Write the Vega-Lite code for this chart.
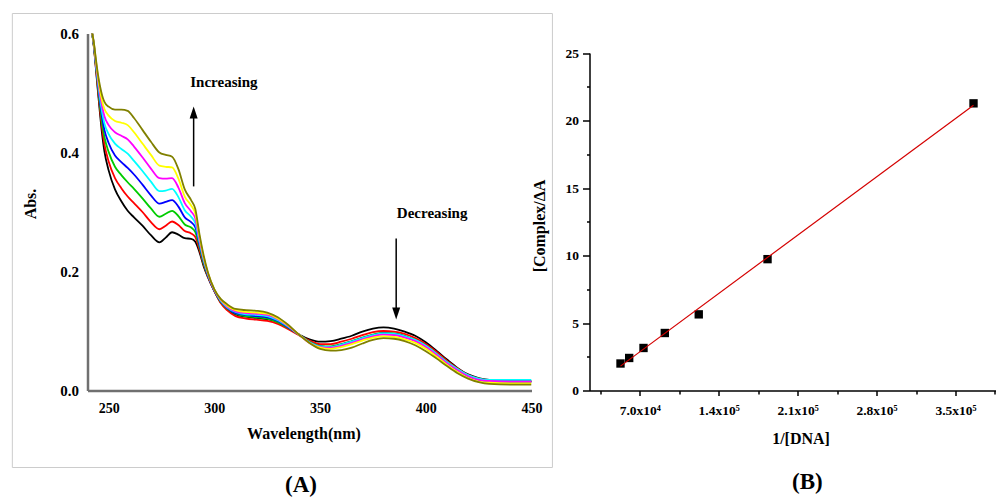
{
  "$schema": "https://vega.github.io/schema/vega-lite/v6.json",
  "padding": {"left": 11.5, "top": 12.5, "right": 0, "bottom": 0},
  "background": "white",
  "bounds": "flush",
  "spacing": 58,
  "config": {
    "view": {"stroke": null},
    "font": "Liberation Serif",
    "axis": {
      "grid": false,
      "labelFont": "Liberation Serif",
      "labelFontWeight": "bold",
      "titleFont": "Liberation Serif",
      "titleFontWeight": "bold",
      "labelColor": "black",
      "titleColor": "black",
      "labelFlush": false,
      "labelOverlap": false,
      "labelBound": false
    }
  },
  "datasets": {
    "spectra": [
      {"wl":242,"black":0.605,"red":0.605,"green":0.605,"blue":0.605,"cyan":0.605,"magenta":0.605,"yellow":0.605,"olive":0.605},
      {"wl":243,"black":0.578,"red":0.579,"green":0.580,"blue":0.581,"cyan":0.582,"magenta":0.583,"yellow":0.584,"olive":0.585},
      {"wl":244,"black":0.540,"red":0.542,"green":0.545,"blue":0.547,"cyan":0.549,"magenta":0.551,"yellow":0.554,"olive":0.556},
      {"wl":245,"black":0.500,"red":0.504,"green":0.509,"blue":0.513,"cyan":0.517,"magenta":0.521,"yellow":0.526,"olive":0.530},
      {"wl":246,"black":0.462,"red":0.469,"green":0.476,"blue":0.483,"cyan":0.489,"magenta":0.496,"yellow":0.503,"olive":0.510},
      {"wl":247,"black":0.428,"red":0.438,"green":0.447,"blue":0.457,"cyan":0.466,"magenta":0.476,"yellow":0.485,"olive":0.495},
      {"wl":248,"black":0.402,"red":0.414,"green":0.426,"blue":0.438,"cyan":0.449,"magenta":0.461,"yellow":0.473,"olive":0.485},
      {"wl":250,"black":0.370,"red":0.385,"green":0.401,"blue":0.416,"cyan":0.431,"magenta":0.446,"yellow":0.462,"olive":0.477},
      {"wl":253,"black":0.338,"red":0.357,"green":0.376,"blue":0.395,"cyan":0.415,"magenta":0.434,"yellow":0.453,"olive":0.472},
      {"wl":256,"black":0.318,"red":0.340,"green":0.362,"blue":0.384,"cyan":0.406,"magenta":0.428,"yellow":0.450,"olive":0.472},
      {"wl":259,"black":0.302,"red":0.326,"green":0.350,"blue":0.374,"cyan":0.398,"magenta":0.422,"yellow":0.446,"olive":0.470},
      {"wl":262,"black":0.291,"red":0.315,"green":0.339,"blue":0.363,"cyan":0.386,"magenta":0.410,"yellow":0.434,"olive":0.458},
      {"wl":266,"black":0.277,"red":0.300,"green":0.323,"blue":0.346,"cyan":0.369,"magenta":0.392,"yellow":0.415,"olive":0.438},
      {"wl":270,"black":0.261,"red":0.283,"green":0.306,"blue":0.328,"cyan":0.351,"magenta":0.373,"yellow":0.396,"olive":0.418},
      {"wl":274,"black":0.249,"red":0.271,"green":0.292,"blue":0.314,"cyan":0.335,"magenta":0.357,"yellow":0.378,"olive":0.400},
      {"wl":277,"black":0.257,"red":0.277,"green":0.297,"blue":0.317,"cyan":0.336,"magenta":0.356,"yellow":0.376,"olive":0.396},
      {"wl":280,"black":0.266,"red":0.284,"green":0.302,"blue":0.320,"cyan":0.339,"magenta":0.357,"yellow":0.375,"olive":0.393},
      {"wl":283,"black":0.262,"red":0.278,"green":0.293,"blue":0.309,"cyan":0.325,"magenta":0.341,"yellow":0.356,"olive":0.372},
      {"wl":286,"black":0.256,"red":0.268,"green":0.279,"blue":0.291,"cyan":0.303,"magenta":0.315,"yellow":0.326,"olive":0.338},
      {"wl":289,"black":0.255,"red":0.264,"green":0.274,"blue":0.283,"cyan":0.292,"magenta":0.301,"yellow":0.311,"olive":0.320},
      {"wl":291,"black":0.250,"red":0.258,"green":0.266,"blue":0.274,"cyan":0.281,"magenta":0.289,"yellow":0.297,"olive":0.305},
      {"wl":293,"black":0.232,"red":0.236,"green":0.241,"blue":0.245,"cyan":0.249,"magenta":0.253,"yellow":0.258,"olive":0.262},
      {"wl":295,"black":0.208,"red":0.211,"green":0.213,"blue":0.216,"cyan":0.218,"magenta":0.221,"yellow":0.223,"olive":0.226},
      {"wl":297,"black":0.190,"red":0.191,"green":0.192,"blue":0.193,"cyan":0.195,"magenta":0.196,"yellow":0.197,"olive":0.198},
      {"wl":300,"black":0.167,"red":0.167,"green":0.168,"blue":0.168,"cyan":0.169,"magenta":0.169,"yellow":0.170,"olive":0.170},
      {"wl":303,"black":0.148,"red":0.147,"green":0.149,"blue":0.150,"cyan":0.151,"magenta":0.152,"yellow":0.153,"olive":0.154},
      {"wl":306,"black":0.137,"red":0.135,"green":0.138,"blue":0.139,"cyan":0.140,"magenta":0.141,"yellow":0.143,"olive":0.145},
      {"wl":310,"black":0.128,"red":0.125,"green":0.129,"blue":0.130,"cyan":0.132,"magenta":0.133,"yellow":0.135,"olive":0.137},
      {"wl":315,"black":0.124,"red":0.121,"green":0.125,"blue":0.127,"cyan":0.128,"magenta":0.130,"yellow":0.132,"olive":0.135},
      {"wl":320,"black":0.122,"red":0.119,"green":0.123,"blue":0.125,"cyan":0.127,"magenta":0.129,"yellow":0.131,"olive":0.134},
      {"wl":325,"black":0.120,"red":0.117,"green":0.121,"blue":0.123,"cyan":0.125,"magenta":0.127,"yellow":0.129,"olive":0.131},
      {"wl":330,"black":0.115,"red":0.112,"green":0.115,"blue":0.117,"cyan":0.118,"magenta":0.120,"yellow":0.121,"olive":0.123},
      {"wl":335,"black":0.105,"red":0.103,"green":0.105,"blue":0.106,"cyan":0.107,"magenta":0.108,"yellow":0.109,"olive":0.110},
      {"wl":340,"black":0.094,"red":0.093,"green":0.094,"blue":0.094,"cyan":0.094,"magenta":0.094,"yellow":0.094,"olive":0.094},
      {"wl":345,"black":0.086,"red":0.084,"green":0.082,"blue":0.081,"cyan":0.081,"magenta":0.080,"yellow":0.080,"olive":0.080},
      {"wl":350,"black":0.082,"red":0.078,"green":0.075,"blue":0.074,"cyan":0.074,"magenta":0.073,"yellow":0.072,"olive":0.070},
      {"wl":355,"black":0.083,"red":0.078,"green":0.074,"blue":0.073,"cyan":0.073,"magenta":0.072,"yellow":0.070,"olive":0.067},
      {"wl":360,"black":0.087,"red":0.082,"green":0.078,"blue":0.077,"cyan":0.077,"magenta":0.075,"yellow":0.073,"olive":0.068},
      {"wl":365,"black":0.092,"red":0.087,"green":0.083,"blue":0.082,"cyan":0.082,"magenta":0.080,"yellow":0.078,"olive":0.072},
      {"wl":370,"black":0.099,"red":0.093,"green":0.089,"blue":0.088,"cyan":0.088,"magenta":0.086,"yellow":0.084,"olive":0.079},
      {"wl":375,"black":0.104,"red":0.098,"green":0.094,"blue":0.093,"cyan":0.093,"magenta":0.091,"yellow":0.089,"olive":0.085},
      {"wl":380,"black":0.106,"red":0.100,"green":0.097,"blue":0.096,"cyan":0.096,"magenta":0.094,"yellow":0.091,"olive":0.088},
      {"wl":385,"black":0.104,"red":0.099,"green":0.096,"blue":0.095,"cyan":0.095,"magenta":0.093,"yellow":0.090,"olive":0.087},
      {"wl":390,"black":0.099,"red":0.095,"green":0.092,"blue":0.091,"cyan":0.091,"magenta":0.089,"yellow":0.086,"olive":0.083},
      {"wl":395,"black":0.092,"red":0.088,"green":0.085,"blue":0.084,"cyan":0.085,"magenta":0.083,"yellow":0.080,"olive":0.076},
      {"wl":400,"black":0.081,"red":0.078,"green":0.075,"blue":0.074,"cyan":0.075,"magenta":0.073,"yellow":0.070,"olive":0.066},
      {"wl":405,"black":0.067,"red":0.065,"green":0.062,"blue":0.061,"cyan":0.062,"magenta":0.060,"yellow":0.057,"olive":0.054},
      {"wl":410,"black":0.052,"red":0.050,"green":0.048,"blue":0.047,"cyan":0.048,"magenta":0.046,"yellow":0.043,"olive":0.041},
      {"wl":415,"black":0.038,"red":0.037,"green":0.035,"blue":0.034,"cyan":0.036,"magenta":0.034,"yellow":0.031,"olive":0.029},
      {"wl":420,"black":0.027,"red":0.026,"green":0.025,"blue":0.024,"cyan":0.026,"magenta":0.024,"yellow":0.021,"olive":0.020},
      {"wl":425,"black":0.021,"red":0.020,"green":0.019,"blue":0.018,"cyan":0.020,"magenta":0.018,"yellow":0.015,"olive":0.014},
      {"wl":430,"black":0.018,"red":0.017,"green":0.016,"blue":0.016,"cyan":0.018,"magenta":0.016,"yellow":0.013,"olive":0.011},
      {"wl":440,"black":0.016,"red":0.015,"green":0.015,"blue":0.015,"cyan":0.018,"magenta":0.015,"yellow":0.012,"olive":0.010},
      {"wl":450,"black":0.016,"red":0.015,"green":0.015,"blue":0.015,"cyan":0.018,"magenta":0.015,"yellow":0.012,"olive":0.010}
    ],
    "dna": [
      {"inv": 52900, "ratio": 2.0},
      {"inv": 60600, "ratio": 2.41},
      {"inv": 73300, "ratio": 3.15},
      {"inv": 92200, "ratio": 4.26},
      {"inv": 122300, "ratio": 5.64},
      {"inv": 183300, "ratio": 9.73},
      {"inv": 366000, "ratio": 21.27}
    ]
  },
  "hconcat": [
    {
      "width": 444,
      "height": 357,
      "resolve": {"axis": {"x": "independent", "y": "independent"}},
      "layer": [
        {
          "data": {"name": "spectra"},
          "transform": [{"fold": ["black", "red", "green", "blue", "cyan", "magenta", "yellow", "olive"], "as": ["curve", "abs"]}],
          "mark": {"type": "line", "interpolate": "monotone", "strokeWidth": 1.8, "clip": true},
          "encoding": {
            "x": {
              "field": "wl", "type": "quantitative",
              "scale": {"domain": [240, 450], "nice": false, "zero": false},
              "axis": {
                "orient": "bottom",
                "values": [250, 300, 350, 400, 450],
                "title": "Wavelength(nm)",
                "ticks": true, "tickSize": 0.01, "tickOpacity": 0,
                "labelPadding": 11, "labelFontSize": 14,
                "titleFontSize": 16, "titlePadding": 10, "titleX": 216,
                "domainColor": "#707070", "domainWidth": 2.5
              }
            },
            "y": {
              "field": "abs", "type": "quantitative",
              "scale": {"domain": [0, 0.6], "nice": false},
              "axis": {
                "orient": "left",
                "values": [0, 0.2, 0.4, 0.6],
                "format": ".1f",
                "title": "Abs.",
                "ticks": true, "tickSize": 0.01, "tickOpacity": 0,
                "labelPadding": 9, "labelFontSize": 15,
                "titleFontSize": 16, "titlePadding": 21, "titleY": 170,
                "domainColor": "#707070", "domainWidth": 2.5
              }
            },
            "color": {
              "field": "curve", "type": "nominal",
              "scale": {
                "domain": ["black", "red", "green", "blue", "cyan", "magenta", "yellow", "olive"],
                "range": ["#000000", "#ff0000", "#00cc00", "#0000ff", "#00ffff", "#ff00ff", "#ffff00", "#808000"]
              },
              "legend": null
            }
          }
        },
        {
          "data": {"values": [{}]},
          "mark": {"type": "rect", "fill": null, "stroke": "#cccccc", "strokeWidth": 1, "clip": false},
          "encoding": {
            "x": {"datum": 204.45, "type": "quantitative", "axis": null},
            "x2": {"datum": 459.9},
            "y": {"datum": 0.6336, "type": "quantitative", "axis": null},
            "y2": {"datum": -0.1294}
          }
        },
        {
          "data": {"values": [{}]},
          "mark": {"type": "rule", "color": "black", "strokeWidth": 1.5},
          "encoding": {
            "x": {"datum": 290.2, "type": "quantitative", "axis": null},
            "y": {"datum": 0.343, "type": "quantitative", "axis": null},
            "y2": {"datum": 0.47}
          }
        },
        {
          "data": {"values": [{}]},
          "mark": {"type": "point", "shape": "M0,-1L0.667,1L-0.667,1Z", "filled": true, "color": "black", "opacity": 1, "size": 144},
          "encoding": {
            "x": {"datum": 290.2, "type": "quantitative", "axis": null},
            "y": {"datum": 0.4672, "type": "quantitative", "axis": null}
          }
        },
        {
          "data": {"values": [{}]},
          "mark": {"type": "rule", "color": "black", "strokeWidth": 1.5},
          "encoding": {
            "x": {"datum": 386, "type": "quantitative", "axis": null},
            "y": {"datum": 0.2555, "type": "quantitative", "axis": null},
            "y2": {"datum": 0.125}
          }
        },
        {
          "data": {"values": [{}]},
          "mark": {"type": "point", "shape": "M0,1L0.667,-1L-0.667,-1Z", "filled": true, "color": "black", "opacity": 1, "size": 144},
          "encoding": {
            "x": {"datum": 386, "type": "quantitative", "axis": null},
            "y": {"datum": 0.1294, "type": "quantitative", "axis": null}
          }
        },
        {
          "data": {"values": [{}]},
          "mark": {"type": "text", "text": "Increasing", "font": "Liberation Serif", "fontWeight": "bold", "fontSize": 15, "align": "center", "baseline": "middle", "color": "black"},
          "encoding": {
            "x": {"datum": 304.5, "type": "quantitative", "axis": null},
            "y": {"datum": 0.518, "type": "quantitative", "axis": null}
          }
        },
        {
          "data": {"values": [{}]},
          "mark": {"type": "text", "text": "Decreasing", "font": "Liberation Serif", "fontWeight": "bold", "fontSize": 15, "align": "center", "baseline": "middle", "color": "black"},
          "encoding": {
            "x": {"datum": 403, "type": "quantitative", "axis": null},
            "y": {"datum": 0.2975, "type": "quantitative", "axis": null}
          }
        },
        {
          "data": {"values": [{}]},
          "mark": {"type": "text", "text": "(A)", "font": "Liberation Serif", "fontWeight": "bold", "fontSize": 23, "align": "center", "baseline": "middle", "color": "black", "clip": false},
          "encoding": {
            "x": {"datum": 340.95, "type": "quantitative", "axis": null},
            "y": {"datum": -0.158, "type": "quantitative", "axis": null}
          }
        }
      ]
    },
    {
      "width": 406,
      "height": 357,
      "layer": [
        {
          "data": {"name": "dna"},
          "mark": {"type": "point", "shape": "square", "filled": true, "color": "black", "opacity": 1, "size": 70},
          "encoding": {
            "x": {
              "field": "inv", "type": "quantitative",
              "scale": {"domain": [25400, 385500], "nice": false, "zero": false},
              "axis": {
                "orient": "bottom",
                "values": [70000, 140000, 210000, 280000, 350000],
                "labelExpr": "datum.value < 100000 ? format(datum.value / 10000, '.1f') + 'x10⁴' : format(datum.value / 100000, '.1f') + 'x10⁵'",
                "title": "1/[DNA]",
                "tickSize": 5, "tickColor": "black", "tickWidth": 1.5,
                "labelPadding": 8, "labelFontSize": 13.5,
                "titleFontSize": 16, "titlePadding": 13, "titleX": 211,
                "domainColor": "black", "domainWidth": 1.5
              }
            },
            "y": {
              "field": "ratio", "type": "quantitative",
              "scale": {"domain": [0, 25], "range": [357, 19.5], "nice": false},
              "axis": {
                "orient": "left",
                "values": [0, 5, 10, 15, 20, 25],
                "title": "[Complex/ΔA",
                "tickSize": 7, "tickColor": "black", "tickWidth": 1.5,
                "labelPadding": 4, "labelFontSize": 13.5,
                "titleFontSize": 16, "titlePadding": 18, "titleY": 192,
                "domainColor": "black", "domainWidth": 1.5
              }
            }
          }
        },
        {
          "data": {"name": "dna"},
          "transform": [{"regression": "ratio", "on": "inv"}],
          "mark": {"type": "line", "color": "#d40000", "strokeWidth": 1.2},
          "encoding": {
            "x": {
              "field": "inv", "type": "quantitative",
              "axis": {
                "orient": "bottom",
                "values": [35000, 105000, 175000, 245000, 315000, 385000],
                "labels": false, "title": null, "domain": false,
                "tickSize": 3.5, "tickColor": "black", "tickWidth": 1.5
              }
            },
            "y": {
              "field": "ratio", "type": "quantitative",
              "axis": {
                "orient": "left",
                "values": [2.5, 7.5, 12.5, 17.5, 22.5],
                "labels": false, "title": null, "domain": false,
                "tickSize": 3, "tickColor": "black", "tickWidth": 1.5
              }
            }
          }
        },
        {
          "data": {"values": [{}]},
          "mark": {"type": "text", "text": "(B)", "font": "Liberation Serif", "fontWeight": "bold", "fontSize": 23, "align": "center", "baseline": "middle", "color": "black", "clip": false},
          "encoding": {
            "x": {"datum": 218700, "type": "quantitative", "axis": null},
            "y": {"datum": -6.75, "type": "quantitative", "axis": null}
          }
        }
      ],
      "resolve": {"axis": {"x": "independent", "y": "independent"}}
    }
  ]
}
